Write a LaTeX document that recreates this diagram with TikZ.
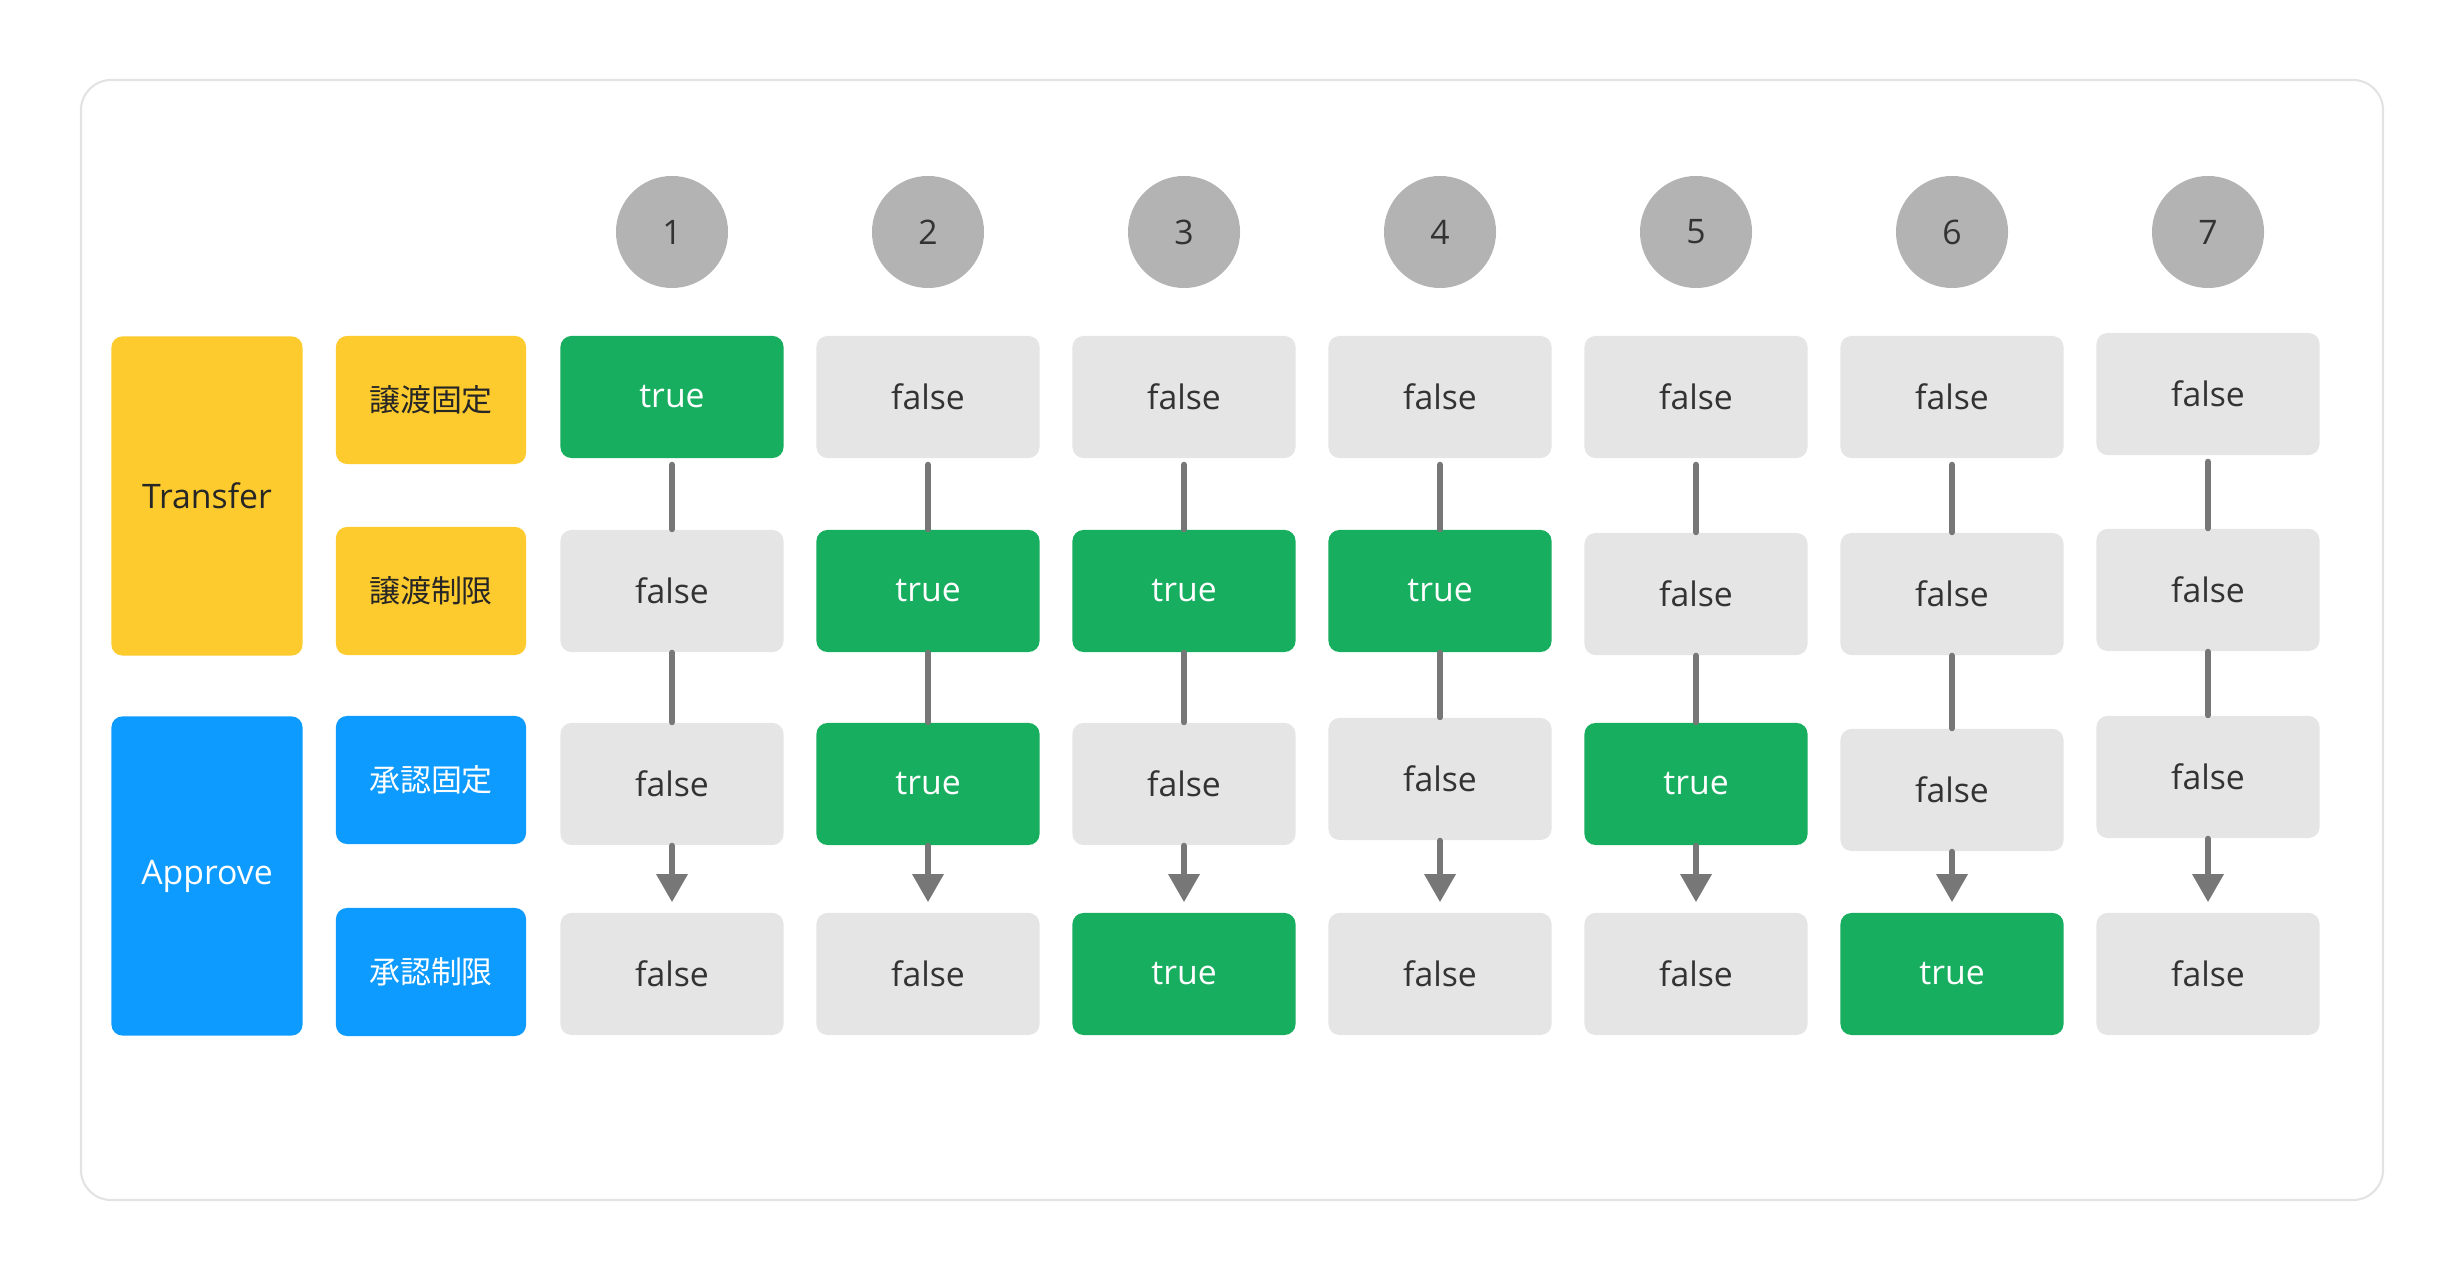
\documentclass[tikz,border=0pt]{standalone}
\usepackage{fontspec}
\setmainfont{Open Sans}
\newfontfamily\jpfont{Noto Sans CJK JP}
\usetikzlibrary{arrows.meta}
\definecolor{amber}{HTML}{FDCB2D}
\definecolor{skyblue}{HTML}{0E9BFF}
\definecolor{okgreen}{HTML}{17AE5F}
\definecolor{cellgray}{HTML}{E5E5E5}
\definecolor{dotgray}{HTML}{B3B3B3}
\definecolor{linegray}{HTML}{777777}
\definecolor{framegray}{HTML}{E3E3E3}
\definecolor{inkgray}{HTML}{333333}
\begin{document}
\begin{tikzpicture}[x=0.01cm, y=-0.01cm, line cap=round, line join=round, font=\fontsize{9.6}{11}\selectfont]
	\tikzset{cell/.style={rounded corners=1.1mm, minimum width=2.23cm, minimum height=1.22cm, inner sep=0pt},
		valtrue/.style={fill=okgreen, text=white},
		valfalse/.style={fill=cellgray, text=inkgray},
		group/.style={cell, minimum width=1.91cm, minimum height=3.19cm},
		tag/.style={cell, minimum width=1.90cm, minimum height=1.28cm, font=\jpfont\fontsize{8.8}{10}\selectfont},
		dot/.style={circle, fill=dotgray, text=inkgray, minimum size=1.12cm, inner sep=0pt},
		link/.style={draw=linegray, line width=1.7pt}}
	\useasboundingbox (0,0) rectangle (2464,1280);
	\draw[framegray, line width=0.6pt, rounded corners=0.3cm] (81,80) rectangle (2383,1200);
	% row labels
	\node[group, fill=amber, text=black!85] (transfer) at (207,496) {Transfer};
	\node[group, fill=skyblue, text=white] (approve) at (207,876) {Approve};
	\node[tag, fill=amber, text=black!85] (lockT) at (431,400) {譲渡固定};
	\node[tag, fill=amber, text=black!85] (limitT) at (431,591) {譲渡制限};
	\node[tag, fill=skyblue, text=white] (lockA) at (431,780) {承認固定};
	\node[tag, fill=skyblue, text=white] (limitA) at (431,972) {承認制限};
	% one column per case
	\foreach \i/\x/\ya/\yb/\yc/\sa/\sb/\sc/\sd in {
		1/672/397/591/784/true/false/false/false,
		2/928/397/591/784/false/true/true/false,
		3/1184/397/591/784/false/true/false/true,
		4/1440/397/591/779/false/true/false/false,
		5/1696/397/594/784/false/false/true/false,
		6/1952/397/594/790/false/false/false/true,
		7/2208/394/590/777/false/false/false/false}{
		\node[dot] (n\i) at (\x,232) {\i};
		\node[cell, val\sa] (v\i-1) at (\x,\ya) {\sa};
		\node[cell, val\sb] (v\i-2) at (\x,\yb) {\sb};
		\node[cell, val\sc] (v\i-3) at (\x,\yc) {\sc};
		\node[cell, val\sd] (v\i-4) at (\x,974) {\sd};
		\draw[link, shorten <=0.6mm] (v\i-1.south) -- (v\i-2.north);
		\draw[link] (v\i-2.south) -- (v\i-3.north);
		\draw[link, -{Triangle[width=3mm, length=2.8mm]}, shorten >=1mm] (v\i-3.south) -- (v\i-4.north);
	}
\end{tikzpicture}
\end{document}
